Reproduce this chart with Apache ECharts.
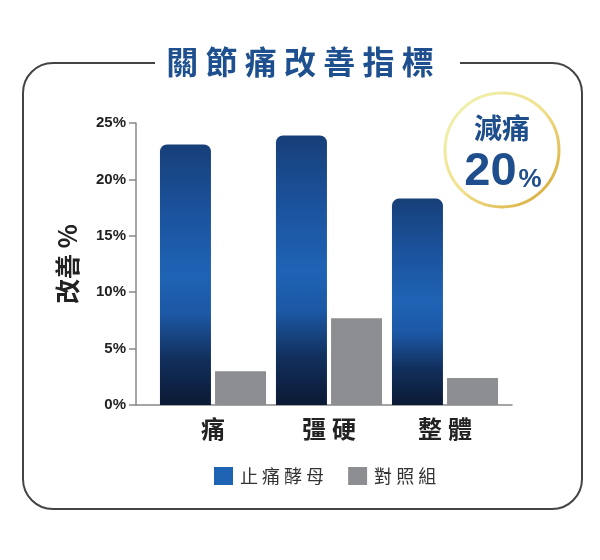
<!DOCTYPE html>
<html>
<head>
<meta charset="utf-8">
<script src="https://cdn.jsdelivr.net/npm/echarts@6/dist/echarts.min.js"></script>
<style>
html,body{margin:0;padding:0;background:#fff;}
#c{width:600px;height:560px;}
</style>
</head>
<body>
<div id="c"></div>
<script>
const categories = ['痛', '彊硬', '整體'];
const seriesNames = ['止痛酵母', '對照組'];
const yeastValues = [23.1, 23.9, 18.3];
const controlValues = [3.0, 7.7, 2.4];
const yTicks = [0, 5, 10, 15, 20, 25];
const titleText = '關節痛改善指標';
const badgeTop = '減痛';
const badgeValue = '20';

const CJK = '"Noto Sans CJK TC","Noto Sans CJK SC",sans-serif';
const NUM = '"Liberation Sans","Noto Sans",Arial,sans-serif';
const spaced = s => s.split('').join(' ');

const chart = echarts.init(document.getElementById('c'), null, {renderer: 'canvas'});

const blueGrad = new echarts.graphic.LinearGradient(0, 0, 0, 1, [
  {offset: 0, color: '#173f79'},
  {offset: 0.25, color: '#1b529c'},
  {offset: 0.5, color: '#1f63b5'},
  {offset: 0.65, color: '#1c58a5'},
  {offset: 0.82, color: '#12305e'},
  {offset: 1, color: '#0b1933'}
]);

chart.setOption({
  backgroundColor: '#fff',
  animation: false,
  grid: [
    {left: 155, right: 97, top: 123, bottom: 155},
    {left: 136, right: 88, top: 123, bottom: 155}
  ],
  legend: {
    data: [
      {name: seriesNames[0], itemStyle: {color: '#1f63b5'}},
      {name: seriesNames[1], itemStyle: {color: '#8c8e91'}}
    ],
    left: 209, top: 462,
    icon: 'rect', itemWidth: 19, itemHeight: 18, itemGap: 24,
    formatter: n => spaced(n),
    textStyle: {fontFamily: CJK, fontSize: 18, color: '#333', padding: [0,0,0,2]}
  },
  xAxis: [
    {
      type: 'category', gridIndex: 0, data: categories,
      axisLine: {show: false}, axisTick: {show: false},
      axisLabel: {fontFamily: CJK, fontSize: 24, fontWeight: 'bold', color: '#222', margin: 12,
                  formatter: v => v.split('').join('\u2005')}
    },
    {
      type: 'category', gridIndex: 1, data: [''],
      axisLine: {show: true, lineStyle: {color: '#888', width: 1.5}},
      axisTick: {show: false}, axisLabel: {show: false}
    }
  ],
  yAxis: [
    {type: 'value', gridIndex: 0, min: 0, max: 25, interval: 5, show: false},
    {
      type: 'value', gridIndex: 1, min: yTicks[0], max: yTicks[yTicks.length - 1], interval: 5,
      name: '改善 %', nameLocation: 'middle', nameGap: 56, nameRotate: 90,
      nameTextStyle: {fontFamily: CJK, fontSize: 25, fontWeight: 'bold', color: '#222'},
      axisLine: {show: true, lineStyle: {color: '#888', width: 1.5}},
      axisTick: {show: true, length: 7, lineStyle: {color: '#888', width: 1.5}},
      axisLabel: {formatter: '{value}%', fontFamily: NUM, fontSize: 15, fontWeight: 'bold', color: '#222', margin: 10},
      splitLine: {show: false}
    }
  ],
  series: [
    {
      name: seriesNames[0], type: 'bar', xAxisIndex: 0, yAxisIndex: 0,
      data: yeastValues, barWidth: 51, barGap: '8%',
      itemStyle: {color: blueGrad, borderRadius: [7, 7, 0, 0]}
    },
    {
      name: seriesNames[1], type: 'bar', xAxisIndex: 0, yAxisIndex: 0,
      data: controlValues, barWidth: 51,
      itemStyle: {color: '#8c8e91'}
    }
  ],
  color: ['#1f63b5', '#8c8e91'],
  graphic: [
    {
      type: 'rect', z: -1, silent: true,
      shape: {x: 23, y: 63, width: 559, height: 446, r: 30},
      style: {fill: 'none', stroke: '#444', lineWidth: 2}
    },
    {
      type: 'rect', z: 0, silent: true,
      shape: {x: 155, y: 45, width: 305, height: 36},
      style: {fill: '#fff'}
    },
    {
      type: 'text', z: 1, left: 'center', top: 46,
      style: {text: spaced(titleText), fontFamily: CJK, fontSize: 32, fontWeight: 'bold', fill: '#1e4f8e'}
    },
    {
      type: 'circle', z: 5, silent: true,
      shape: {cx: 502, cy: 150, r: 57},
      style: {
        fill: '#fff', lineWidth: 3,
        stroke: {type: 'linear', x: 0, y: 0, x2: 1, y2: 1, colorStops: [
          {offset: 0, color: '#eef5b8'},
          {offset: 0.5, color: '#f1e08a'},
          {offset: 1, color: '#d4a22c'}
        ]}
      }
    },
    {
      type: 'text', z: 6, x: 502, y: 128,
      style: {text: badgeTop, fontFamily: CJK, fontSize: 28, fontWeight: 'bold', fill: '#1f4e8c',
              textAlign: 'center', textVerticalAlign: 'middle'}
    },
    {
      type: 'text', z: 6, x: 503, y: 172,
      style: {
        text: '{a|' + badgeValue + '}{b|%}',
        textAlign: 'center', textVerticalAlign: 'middle',
        rich: {
          a: {fontFamily: NUM, fontSize: 47, fontWeight: 'bold', fill: '#1f4e8c', color: '#1f4e8c'},
          b: {fontFamily: NUM, fontSize: 26, fontWeight: 'bold', fill: '#1f4e8c', color: '#1f4e8c', padding: [16, 0, 0, 2]}
        }
      }
    }
  ]
});
</script>
</body>
</html>
